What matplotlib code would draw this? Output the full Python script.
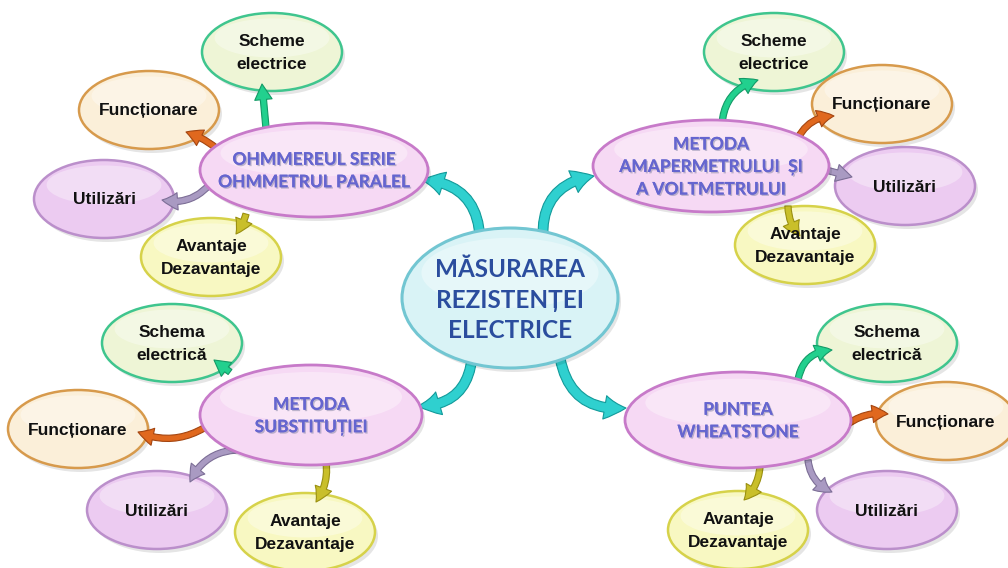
"""
Mind map: Măsurarea rezistenței electrice.
"""

import matplotlib
matplotlib.use("Agg")
import matplotlib.pyplot as plt
import matplotlib.patheffects as pe
from matplotlib.patches import Ellipse, FancyArrowPatch, ArrowStyle

# --- content -------------------------------------------------------------
center_label = "MĂSURAREA\nREZISTENȚEI\nELECTRICE"

main_labels = [
    "OHMMEREUL SERIE\nOHMMETRUL PARALEL",
    "METODA\nAMAPERMETRULUI  ȘI\nA VOLTMETRULUI",
    "METODA\nSUBSTITUȚIEI",
    "PUNTEA\nWHEATSTONE",
]

leaf_labels = [
    ["Scheme\nelectrice", "Funcționare", "Utilizări", "Avantaje\nDezavantaje"],
    ["Scheme\nelectrice", "Funcționare", "Utilizări", "Avantaje\nDezavantaje"],
    ["Schema\nelectrică", "Funcționare", "Utilizări", "Avantaje\nDezavantaje"],
    ["Schema\nelectrică", "Funcționare", "Utilizări", "Avantaje\nDezavantaje"],
]

# --- layout (pixel coords, y down) ---------------------------------------
center_xy = (510, 298)
center_wh = (216, 140)

main_xy = [(314, 170), (711, 166), (311, 415), (738, 420)]
main_wh = [(228, 94), (236, 92), (222, 100), (226, 96)]

leaf_xy = [
    [(272, 52), (149, 110), (104, 199), (211, 257)],
    [(774, 52), (882, 104), (905, 186), (805, 245)],
    [(172, 343), (78, 429), (157, 510), (305, 532)],
    [(887, 343), (946, 421), (887, 510), (738, 530)],
]
leaf_wh = (140, 78)

# arrow start/end points and curvature
center_arrows = [
    ((480, 238), (422, 180), 0.45),
    ((543, 238), (594, 176), -0.45),
    ((472, 358), (418, 406), -0.45),
    ((560, 358), (626, 408), 0.45),
]

leaf_arrows = [
    [((266, 128), (262, 84), 0.0), ((216, 148), (186, 132), 0.1),
     ((210, 184), (162, 200), -0.3), ((246, 214), (236, 234), -0.1)],
    [((722, 124), (758, 80), -0.35), ((798, 138), (834, 116), -0.3),
     ((826, 170), (852, 177), 0.0), ((788, 206), (800, 236), 0.2)],
    [((230, 372), (214, 360), 0.0), ((204, 428), (138, 432), -0.25),
     ((236, 450), (190, 482), 0.3), ((326, 462), (316, 502), -0.2)],
    [((798, 380), (832, 350), -0.4), ((848, 424), (888, 414), -0.2),
     ((808, 460), (832, 492), 0.3), ((760, 466), (744, 500), -0.2)],
]

# --- styles --------------------------------------------------------------
leaf_fill = ["#eef5d6", "#fbefd9", "#eccbf1", "#f8f8c2"]
leaf_edge = ["#3fc58e", "#d79a4c", "#bb8fcb", "#d6d24a"]
leaf_arrow = ["#22d08e", "#e0681e", "#a99ac2", "#c9bf2a"]
leaf_arrow_edge = ["#139a66", "#a44510", "#7c6e96", "#9a9010"]

W, H = 1008, 568
fig = plt.figure(figsize=(W / 100, H / 100), dpi=100)
ax = fig.add_axes([0, 0, 1, 1])
ax.set_xlim(0, W)
ax.set_ylim(H, 0)
ax.axis("off")

title_font = ["Lato", "DejaVu Sans"]
leaf_font = ["Liberation Sans Narrow", "Liberation Sans", "DejaVu Sans"]


def bubble(xy, wh, fill, edge, lw=2.0, z=3):
    x, y = xy
    w, h = wh
    ax.add_patch(Ellipse((x + 3, y + 4), w, h, facecolor="#000000",
                         alpha=0.10, edgecolor="none", zorder=z))
    ax.add_patch(Ellipse((x, y), w, h, facecolor=fill, edgecolor=edge,
                         lw=lw, zorder=z + 0.1))
    ax.add_patch(Ellipse((x, y - h * 0.18), w * 0.82, h * 0.5,
                         facecolor="white", alpha=0.35, edgecolor="none",
                         zorder=z + 0.2))


def arrow(p0, p1, rad, color, edge, tail=4.5, head=11.0, z=2):
    style = ArrowStyle.Simple(head_length=head / 10 * 0.9,
                              head_width=head / 10,
                              tail_width=tail / 10)
    ax.add_patch(FancyArrowPatch(p0, p1, connectionstyle=f"arc3,rad={rad}",
                                 arrowstyle=style, mutation_scale=10,
                                 facecolor=color, edgecolor=edge, lw=0.8,
                                 shrinkA=0, shrinkB=0, zorder=z))


# center -> main arrows
for p0, p1, rad in center_arrows:
    arrow(p0, p1, rad, "#2fd0cf", "#129a9a", tail=7.0, head=17.0, z=2)

# main -> leaf arrows (above the leaf bubbles, below the main bubbles)
for grp in leaf_arrows:
    for k, (p0, p1, rad) in enumerate(grp):
        arrow(p0, p1, rad, leaf_arrow[k], leaf_arrow_edge[k],
              tail=4.5, head=12.5, z=6)

# center bubble
bubble(center_xy, center_wh, "#d9f3f6", "#72c6d2", lw=2.2, z=7)
ax.text(center_xy[0], center_xy[1] + 2, center_label, ha="center",
        va="center", fontsize=17.5, fontweight="bold", color="#2b4d9e",
        family=title_font, linespacing=1.42, zorder=12)

# main bubbles
for lab, xy, wh in zip(main_labels, main_xy, main_wh):
    bubble(xy, wh, "#f6d9f4", "#c77ac9", lw=2.0, z=7)
    ax.text(xy[0], xy[1] + 1, lab, ha="center", va="center", fontsize=12.5,
            fontweight="bold", color="#6565cf", family=title_font,
            linespacing=1.5, zorder=12,
            path_effects=[pe.withSimplePatchShadow(offset=(1, -1),
                                                   shadow_rgbFace="#8a8aa8",
                                                   alpha=0.55),
                          pe.Normal()])

# leaf bubbles
for labs, grp in zip(leaf_labels, leaf_xy):
    for k, (lab, xy) in enumerate(zip(labs, grp)):
        bubble(xy, leaf_wh, leaf_fill[k], leaf_edge[k], lw=1.8, z=3)
        ax.text(xy[0], xy[1] + 1, lab, ha="center", va="center",
                fontsize=12.5, fontweight="bold", color="#111111",
                family=leaf_font, linespacing=1.6, zorder=12)

fig.savefig("out.png", dpi=100)
